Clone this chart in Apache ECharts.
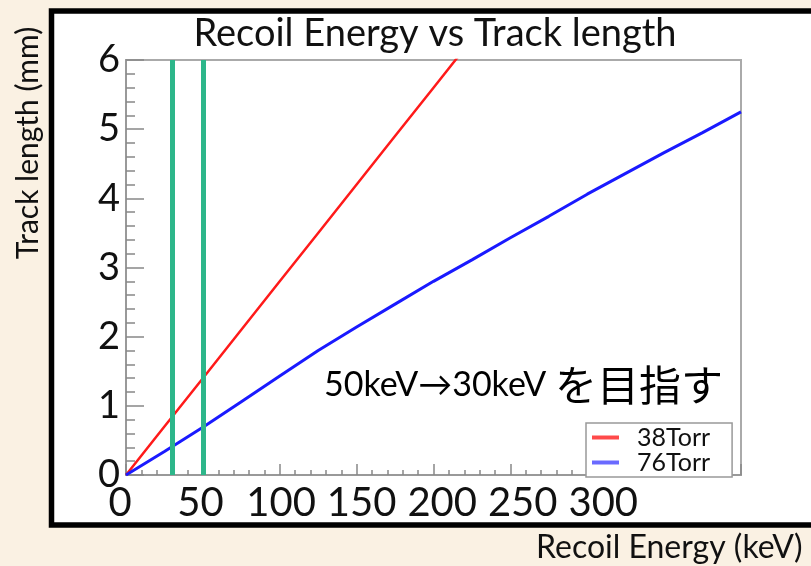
<!DOCTYPE html>
<html><head><meta charset="utf-8">
<script src="https://cdn.jsdelivr.net/npm/echarts@6/dist/echarts.min.js"></script>
<style>html,body{margin:0;padding:0;background:#FAF1E3;} #c{width:811px;height:566px;}</style>
</head><body><div id="c"></div>
<script>
// ---- data ----
const seriesNames = ['38Torr', '76Torr'];
const energy38 = [0, 25, 50, 75, 100, 125, 150, 175, 200, 225];
const length38 = [0, 0.70, 1.40, 2.10, 2.80, 3.50, 4.20, 4.90, 5.60, 6.30];
const energy76 = [0, 25, 50, 75, 100, 125, 150, 175, 200, 225, 250, 275, 300, 325, 350, 375, 400];
const length76 = [0, 0.34, 0.69, 1.06, 1.43, 1.80, 2.14, 2.47, 2.80, 3.11, 3.43, 3.74, 4.06, 4.36, 4.66, 4.95, 5.25];
const markerKeV = [30, 50];
const xTickLabels = [0, 50, 100, 150, 200, 250, 300];
const yTickLabels = [0, 1, 2, 3, 4, 5, 6];
const titleText = 'Recoil Energy vs Track length';
const xName = 'Recoil Energy (keV)';
const yName = 'Track length (mm)';
const noteLatin = '50keV→30keV ';
const noteJa = 'を目指す';

const FONT = 'Lato, "Noto Sans", "Noto Sans CJK JP", sans-serif';
const chart = echarts.init(document.getElementById('c'), null, {renderer: 'canvas'});
const zip = (xs, ys) => xs.map((x, i) => [x, ys[i]]);

const option = {
  backgroundColor: '#FAF1E3',
  animation: false,
  graphic: [
    {type: 'rect', z: -100, silent: true, shape: {x: 51.5, y: 11, width: 800, height: 514},
     style: {fill: '#ffffff', stroke: '#000000', lineWidth: 5.5}},
    {type: 'text', z: 10, x: 435, y: 34, style: {text: titleText, font: '38px ' + FONT, fill: '#111', align: 'center', verticalAlign: 'middle'}},
    {type: 'text', z: 10, x: 28, y: 143, rotation: Math.PI / 2,
     style: {text: yName, font: '30px ' + FONT, fill: '#111', align: 'center', verticalAlign: 'middle'}},
    {type: 'text', z: 10, x: 536, y: 548, style: {text: xName, font: '32px ' + FONT, fill: '#111', align: 'left', verticalAlign: 'middle'}},
    {type: 'text', z: 10, x: 324, y: 385, style: {
      text: '{a|' + noteLatin + '}{b|' + noteJa + '}', align: 'left', verticalAlign: 'middle',
      rich: {a: {fontSize: 34, fontFamily: FONT, color: '#111'}, b: {fontSize: 42, fontFamily: '"Noto Sans CJK JP", sans-serif', color: '#111'}}
    }}
  ],
  grid: [
    {left: 126, top: 60, right: 70, bottom: 91, show: true, borderColor: '#aaaaaa', borderWidth: 2, backgroundColor: 'rgba(0,0,0,0)'},
    {left: 120, top: 60, right: 70, bottom: 91, show: false}
  ],
  xAxis: [
    {gridIndex: 0, type: 'value', min: 0, max: 400, interval: 50,
     axisLine: {show: true, lineStyle: {color: '#999', width: 2}},
     axisTick: {show: true, inside: true, length: 11, lineStyle: {color: '#888', width: 1.5}},
     minorTick: {show: true, splitNumber: 5, length: 5, lineStyle: {color: '#888', width: 1.5}},
     axisLabel: {show: false}, splitLine: {show: false}},
    {gridIndex: 1, type: 'value', min: 0, max: 385.5, interval: 50,
     axisLine: {show: false}, axisTick: {show: false}, splitLine: {show: false},
     axisLabel: {show: true, fontSize: 40, fontFamily: FONT, color: '#111', margin: 8,
       formatter: v => xTickLabels.indexOf(v) >= 0 ? String(v) : ''}}
  ],
  yAxis: [
    {gridIndex: 0, type: 'value', min: 0, max: 6, interval: 1,
     axisLine: {show: true, lineStyle: {color: '#999', width: 2}},
     axisTick: {show: true, inside: true, length: 18, lineStyle: {color: '#888', width: 1.5}},
     minorTick: {show: true, splitNumber: 5, length: 9, lineStyle: {color: '#888', width: 1.5}},
     axisLabel: {show: true, fontSize: 38, fontFamily: FONT, color: '#111', margin: 6,
       formatter: v => yTickLabels.indexOf(v) >= 0 ? String(v) : ''},
     splitLine: {show: false}},
    {gridIndex: 1, type: 'value', min: 0, max: 6, show: false}
  ],
  legend: {
    orient: 'vertical', left: 586, top: 423, icon: 'rect', itemWidth: 27, itemHeight: 4, itemGap: 0,
    padding: [2, 22, 2, 6], borderColor: '#999', borderWidth: 1.5, backgroundColor: '#fff',
    textStyle: {fontSize: 25, fontFamily: FONT, color: '#111', padding: [0, 0, 0, 13], lineHeight: 24},
    data: [
      {name: seriesNames[0], itemStyle: {color: '#ff4a4a'}},
      {name: seriesNames[1], itemStyle: {color: '#6a6aff'}}
    ]
  },
  series: [
    {name: seriesNames[0], type: 'line', xAxisIndex: 0, yAxisIndex: 0, data: zip(energy38, length38),
     showSymbol: false, color: '#ff1a1a', lineStyle: {width: 2.5, color: '#ff1a1a'}, clip: true, z: 2},
    {name: seriesNames[1], type: 'line', xAxisIndex: 0, yAxisIndex: 0, data: zip(energy76, length76),
     showSymbol: false, color: '#1a1aff', lineStyle: {width: 3, color: '#1a1aff'}, clip: true, z: 3,
     markLine: {silent: true, symbol: ['none', 'none'], label: {show: false},
       lineStyle: {color: '#2DB68A', width: 5, type: 'solid'},
       data: markerKeV.map(v => ({xAxis: v}))}}
  ]
};
chart.setOption(option);
</script>
</body></html>
